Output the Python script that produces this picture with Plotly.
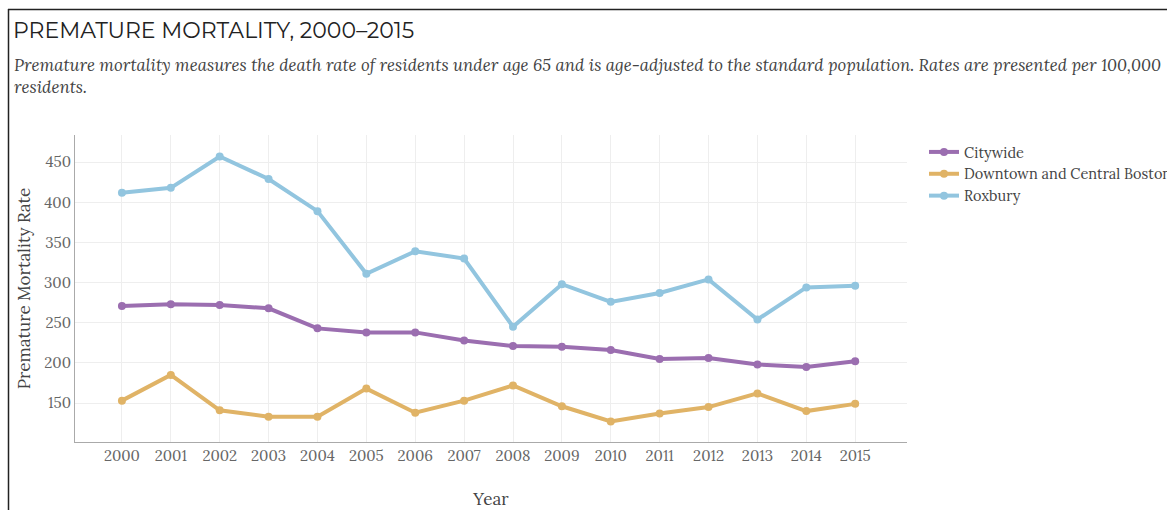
import plotly.graph_objects as go

years = list(range(2000, 2016))
citywide = [271, 273, 272, 268, 243, 238, 238, 228, 221, 220, 216, 205, 206, 198, 195, 202]
downtown = [153, 185, 141, 133, 133, 168, 138, 153, 172, 146, 127, 137, 145, 162, 140, 149]
roxbury = [412, 418, 457, 429, 389, 311, 339, 330, 245, 298, 276, 287, 304, 254, 294, 296]

series_names = ["Citywide", "Downtown and Central Boston", "Roxbury"]
series_values = [citywide, downtown, roxbury]
series_colors = ["#9b6eb0", "#e0b366", "#92c5df"]

title_text = "PREMATURE MORTALITY, 2000–2015"
subtitle_text = ("Premature mortality measures the death rate of residents under age 65 and is "
                 "age-adjusted to the standard population. Rates are presented per 100,000<br>residents.")

W, H = 1167, 510
L, R, T, B = 75, 907, 135, 442

fig = go.Figure()
for name, vals, col in zip(series_names, series_values, series_colors):
    fig.add_trace(go.Scatter(
        x=years, y=vals, name=name, mode="lines+markers",
        line=dict(color=col, width=4),
        marker=dict(color=col, size=8),
    ))

def px_x(p):
    return (p - L) / (R - L)

def px_y(p):
    return (B - p) / (B - T)

serif = "Lora, 'Liberation Serif', 'DejaVu Serif', serif"

fig.update_layout(
    width=W, height=H,
    margin=dict(l=L, r=W - R, t=T, b=H - B, pad=0, autoexpand=False),
    paper_bgcolor="white", plot_bgcolor="white",
    font=dict(family=serif, color="#555"),
    showlegend=True,
    legend=dict(
        x=px_x(924), y=px_y(136), xanchor="left", yanchor="top",
        font=dict(family=serif, size=14.5, color="#444"),
        bgcolor="rgba(0,0,0,0)", tracegroupgap=0, itemwidth=30,
    ),
    xaxis=dict(
        range=[1999.04, 2016.06], tickmode="array", tickvals=years,
        ticktext=[str(y) for y in years],
        showgrid=True, gridcolor="#eeeeee", gridwidth=1,
        showline=True, linecolor="#aaaaaa", linewidth=1,
        zeroline=False, ticks="", automargin=False,
        tickfont=dict(family=serif, size=15, color="#666"),
        title=dict(text="Year", font=dict(family=serif, size=17, color="#444"), standoff=36),
    ),
    yaxis=dict(
        range=[101.5, 483.8], tickvals=[150, 200, 250, 300, 350, 400, 450],
        showgrid=True, gridcolor="#eeeeee", gridwidth=1,
        showline=True, linecolor="#aaaaaa", linewidth=1,
        zeroline=False, ticks="", automargin=False,
        tickfont=dict(family=serif, size=15, color="#666"),
        title=dict(text="Premature Mortality Rate", font=dict(family=serif, size=17, color="#444"), standoff=9),
    ),
    annotations=[
        dict(text=title_text, xref="paper", yref="paper", x=px_x(11), y=px_y(15),
             xanchor="left", yanchor="top", showarrow=False,
             font=dict(family="Montserrat, 'Open Sans', Lato, sans-serif", size=22, color="#222")),
        dict(text="<i>" + subtitle_text + "</i>", xref="paper", yref="paper", x=px_x(12), y=px_y(52),
             xanchor="left", yanchor="top", showarrow=False, align="left",
             font=dict(family=serif, size=16.8, color="#444")),
    ],
    shapes=[
        dict(type="line", xref="paper", yref="paper", x0=px_x(8.5), x1=px_x(8.5), y0=px_y(9), y1=px_y(512),
             line=dict(color="#222", width=1.5)),
        dict(type="line", xref="paper", yref="paper", x0=px_x(8), x1=px_x(1170), y0=px_y(9.5), y1=px_y(9.5),
             line=dict(color="#222", width=1.5)),
    ],
)

fig.write_html(
    "out.html",
    config={"displayModeBar": False},
    post_script="document.body.style.margin='0';document.body.style.overflow='hidden';",
)
